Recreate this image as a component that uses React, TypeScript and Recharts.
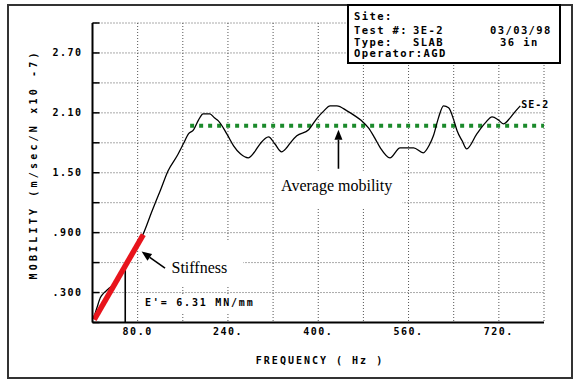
import React from 'react';
import {
  LineChart, Line, XAxis, YAxis, CartesianGrid, ReferenceLine, ReferenceArea, ReferenceDot, LabelList,
} from 'recharts';

// ---- data ----
const freqHz = [2, 8, 14, 19, 25, 31, 40, 50, 60, 70, 80, 90, 105, 120, 134, 150, 161, 170, 179, 188, 196, 208, 216, 223, 238, 250, 262, 276, 286, 297, 312, 323, 335, 344, 352, 362, 383, 397, 410, 421, 433, 451, 465, 477, 489, 500, 510, 527, 545, 569, 586, 597, 604, 613, 622, 631, 640, 646, 655, 663, 681, 696, 708, 719, 728, 740, 750, 758];
const mobility = [0.04, 0.15, 0.25, 0.29, 0.32, 0.35, 0.40, 0.49, 0.59, 0.68, 0.78, 0.89, 1.11, 1.32, 1.52, 1.67, 1.79, 1.89, 1.93, 2.03, 2.09, 2.09, 2.05, 2.02, 1.89, 1.77, 1.69, 1.65, 1.70, 1.79, 1.86, 1.79, 1.71, 1.75, 1.81, 1.87, 1.93, 2.04, 2.12, 2.17, 2.17, 2.12, 2.07, 2.02, 1.95, 1.85, 1.75, 1.65, 1.75, 1.75, 1.70, 1.78, 1.87, 2.05, 2.17, 2.15, 2.03, 1.92, 1.82, 1.74, 1.89, 2.00, 2.06, 2.03, 1.99, 2.05, 2.12, 2.17];

const xTicks = [0, 80, 160, 240, 320, 400, 480, 560, 640, 720, 800];
const xTickLabels: Record<number, string> = { 80: '80.0', 240: '240.', 400: '400.', 560: '560.', 720: '720.' };
const yTicks = [0, 0.3, 0.6, 0.9, 1.2, 1.5, 1.8, 2.1, 2.4, 2.7, 3.0];
const yTickLabels: Record<string, string> = { '0.3': '.300', '0.9': '.900', '1.5': '1.50', '2.1': '2.10', '2.7': '2.70' };

const stiffnessLine = [{ x: 3, y: 0.03 }, { x: 90, y: 0.88 }];
const stiffnessMarker = [{ x: 58, y: 0 }, { x: 58, y: 0.55 }];
const averageMobility = 1.97;
const averageRange = [173, 800];
const stiffnessArrow = [{ x: 128.5, y: 0.545 }, { x: 87, y: 0.71 }];
const averageArrow = [{ x: 435.8, y: 1.54 }, { x: 435.8, y: 1.93 }];
const seriesName = 'SE-2';
const stiffnessText = "E'= 6.31 MN/mm";

const data = freqHz.map((f, i) => ({ f, m: mobility[i] }));

const MONO = "'DejaVu Sans Mono', monospace";
const SERIF = "'Liberation Serif', 'Times New Roman', serif";

const YTick = (props: any) => {
  const { x, y, payload } = props;
  const key = String(Math.round(payload.value * 10) / 10);
  const label = yTickLabels[key] || '';
  return (
    <g>
      <text x={x} y={y} textAnchor="end" dominantBaseline="central" fontFamily={MONO} fontWeight="bold" fontSize={10} letterSpacing={1.5} fill="#000">{label}</text>
      <line x1={x + 10} x2={x + 17} y1={y} y2={y} stroke="#000" strokeWidth={1.5} />
    </g>
  );
};

const XTick = (props: any) => {
  const { x, y, payload } = props;
  const label = xTickLabels[payload.value] || '';
  return (
    <text x={x} y={y} dy="0.71em" textAnchor="middle" fontFamily={MONO} fontWeight="bold" fontSize={10} letterSpacing={1.5} fill="#000">{label}</text>
  );
};

const ArrowShape = (props: any) => {
  const { x1, y1, x2, y2 } = props;
  const dx = x2 - x1;
  const dy = y2 - y1;
  const len = Math.sqrt(dx * dx + dy * dy) || 1;
  const ux = dx / len;
  const uy = dy / len;
  const hl = 10;
  const hw = 4;
  const bx = x2 - ux * hl;
  const by = y2 - uy * hl;
  const pts = `${x2},${y2} ${bx - uy * hw},${by + ux * hw} ${bx + uy * hw},${by - ux * hw}`;
  return (
    <g>
      <line x1={x1} y1={y1} x2={bx} y2={by} stroke="#000" strokeWidth={1.6} />
      <polygon points={pts} fill="#000" />
    </g>
  );
};

const makeText = (text: string, anchor: string, font: string, size: number, bold: boolean, spacing = 0) => (p: any) => (
  <text x={p.cx} y={p.cy} textAnchor={anchor as any} dominantBaseline="central" fontFamily={font} fontSize={size} fontWeight={bold ? 'bold' : 'normal'} letterSpacing={spacing} fill="#000">{text}</text>
);

const EndLabel = (props: any) => {
  const { x, y, index } = props;
  if (index !== data.length - 1) return null;
  return (
    <text x={x + 1} y={y - 1} dominantBaseline="central" fontFamily={MONO} fontWeight="bold" fontSize={10} letterSpacing={1} fill="#000">{seriesName}</text>
  );
};

export default function App() {
  return (
    <div style={{ position: 'absolute', left: 0, top: 0, width: 583, height: 384, background: '#fff' }}>
      <LineChart width={583} height={384} data={data} margin={{ top: 23, right: 39, bottom: 31.5, left: 0 }}>
        <CartesianGrid stroke="#555" strokeDasharray="1 2" />
        <XAxis dataKey="f" type="number" domain={[0, 800]} ticks={xTicks} interval={0} height={30}
          tickSize={0} tickMargin={5} tick={<XTick />} axisLine={{ stroke: '#000', strokeWidth: 2 }} tickLine={false} allowDataOverflow />
        <YAxis type="number" domain={[0, 3]} ticks={yTicks} interval={0} width={92.5}
          tickSize={0} tickMargin={10} tick={<YTick />} axisLine={{ stroke: '#000', strokeWidth: 2 }} tickLine={false} allowDataOverflow />
        <ReferenceArea x1={84} x2={300} y1={0.1} y2={0.27} fill="#fff" fillOpacity={1} stroke="none" />
        <ReferenceArea x1={88} x2={267} y1={0.355} y2={0.824} fill="#fff" fillOpacity={1} stroke="none" />
        <ReferenceArea x1={324} x2={549} y1={1.152} y2={1.52} fill="#fff" fillOpacity={1} stroke="none" />
        <ReferenceLine segment={[{ x: averageRange[0], y: averageMobility }, { x: averageRange[1], y: averageMobility }]}
          stroke="#1b8a2b" strokeWidth={4} strokeDasharray="4 5" />
        <ReferenceLine segment={stiffnessMarker} stroke="#000" strokeWidth={1.6} />
        <Line type="monotone" dataKey="m" stroke="#000" strokeWidth={1.3} dot={false} isAnimationActive={false}>
          <LabelList dataKey="m" content={<EndLabel />} />
        </Line>
        <ReferenceLine segment={stiffnessLine} stroke="#e8141c" strokeWidth={5.5} />
        <ReferenceLine segment={stiffnessArrow} shape={ArrowShape} />
        <ReferenceLine segment={averageArrow} shape={ArrowShape} />
        <ReferenceDot x={140} y={0.555} r={1} shape={makeText('Stiffness', 'start', SERIF, 16, false)} />
        <ReferenceDot x={432.6} y={1.37} r={1} shape={makeText('Average mobility', 'middle', SERIF, 16, false)} />
        <ReferenceDot x={93} y={0.196} r={1} shape={makeText(stiffnessText, 'start', MONO, 10, true, 1.8)} />
      </LineChart>
      <svg width={583} height={384} style={{ position: 'absolute', left: 0, top: 0, pointerEvents: 'none' }}>
        <rect x={8} y={5} width={564} height={373} fill="none" stroke="#333" strokeWidth={2} />
        <rect x={348} y={5} width={212} height={58} fill="#fff" stroke="#000" strokeWidth={2} />
        <g fontFamily={MONO} fontWeight="bold" fontSize={10.5} letterSpacing={1.4} fill="#000">
          <text x={354} y={20}>Site:</text>
          <text x={354} y={34}>Test #:</text>
          <text x={413} y={34}>3E-2</text>
          <text x={490} y={34}>03/03/98</text>
          <text x={354} y={45.5}>Type:</text>
          <text x={413} y={45.5}>SLAB</text>
          <text x={500} y={45.5}>36 in</text>
          <text x={354} y={57}>Operator:AGD</text>
        </g>
        <text x={320} y={360} textAnchor="middle" dominantBaseline="central" fontFamily={MONO} fontWeight="bold" fontSize={10} letterSpacing={2} fill="#000">FREQUENCY ( Hz )</text>
        <text x={0} y={0} transform="translate(33,166) rotate(-90)" textAnchor="middle" dominantBaseline="central" fontFamily={MONO} fontWeight="bold" fontSize={10} textLength={227} lengthAdjust="spacing" fill="#000">MOBILITY (m/sec/N x10 -7)</text>
      </svg>
    </div>
  );
}
